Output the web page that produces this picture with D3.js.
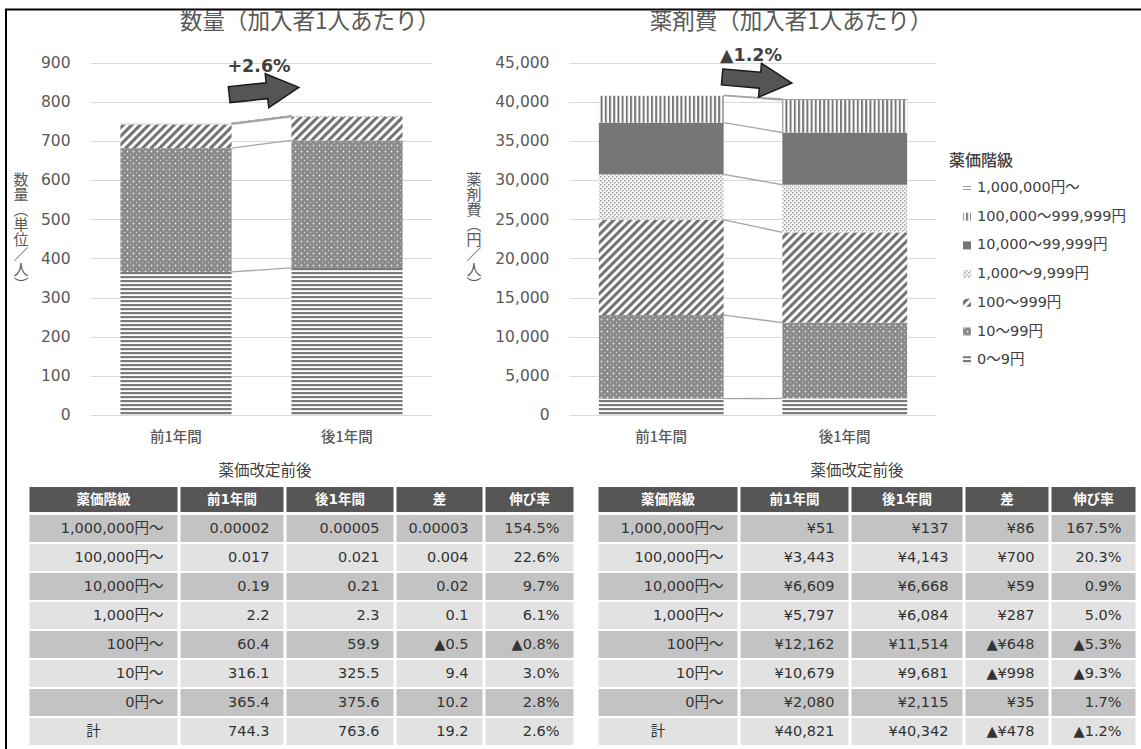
<!DOCTYPE html>
<html><head><meta charset="utf-8">
<script src="https://cdn.jsdelivr.net/npm/d3@7"></script>
<style>body{margin:0;background:#fff}svg{display:block}</style>
</head><body>
<svg id="c" width="1141" height="749"></svg>
<script>
// ---------------- DATA ----------------
const categories = ["前1年間", "後1年間"];
// stack order, bottom to top
const stackKeys = ["0～9円", "10～99円", "100～999円", "1,000～9,999円", "10,000～99,999円", "100,000～999,999円", "1,000,000円～"];
const qtyBefore = [365.4, 316.1, 60.4, 2.2, 0.19, 0.017, 0.00002];
const qtyAfter = [375.6, 325.5, 59.9, 2.3, 0.21, 0.021, 0.00005];
const costBefore = [2080, 10679, 12162, 5797, 6609, 3443, 51];
const costAfter = [2115, 9681, 11514, 6084, 6668, 4143, 137];
const qtyTicks = [0, 100, 200, 300, 400, 500, 600, 700, 800, 900];
const costTicks = [0, 5000, 10000, 15000, 20000, 25000, 30000, 35000, 40000, 45000];
const qtyTitle = "数量（加入者1人あたり）";
const costTitle = "薬剤費（加入者1人あたり）";
const qtyAxisTitle = "数量（単位／人）";
const costAxisTitle = "薬剤費（円／人）";
const qtyChange = "+2.6%";
const costChange = "▲1.2%";
const legendTitle = "薬価階級";
// legend order, top to bottom
const legendLabels = ["1,000,000円～", "100,000～999,999円", "10,000～99,999円", "1,000～9,999円", "100～999円", "10～99円", "0～9円"];

const tableTitle = "薬価改定前後";
const tableHeaders = ["薬価階級", "前1年間", "後1年間", "差", "伸び率"];
const tableRowLabels = ["1,000,000円～", "100,000円～", "10,000円～", "1,000円～", "100円～", "10円～", "0円～", "計"];
const qtyTableBefore = ["0.00002", "0.017", "0.19", "2.2", "60.4", "316.1", "365.4", "744.3"];
const qtyTableAfter = ["0.00005", "0.021", "0.21", "2.3", "59.9", "325.5", "375.6", "763.6"];
const qtyTableDiff = ["0.00003", "0.004", "0.02", "0.1", "▲0.5", "9.4", "10.2", "19.2"];
const qtyTableRate = ["154.5%", "22.6%", "9.7%", "6.1%", "▲0.8%", "3.0%", "2.8%", "2.6%"];
const costTableBefore = ["¥51", "¥3,443", "¥6,609", "¥5,797", "¥12,162", "¥10,679", "¥2,080", "¥40,821"];
const costTableAfter = ["¥137", "¥4,143", "¥6,668", "¥6,084", "¥11,514", "¥9,681", "¥2,115", "¥40,342"];
const costTableDiff = ["¥86", "¥700", "¥59", "¥287", "▲¥648", "▲¥998", "¥35", "▲¥478"];
const costTableRate = ["167.5%", "20.3%", "0.9%", "5.0%", "▲5.3%", "▲9.3%", "1.7%", "▲1.2%"];

// ---------------- SETUP ----------------
const FONT = "'DejaVu Sans','Noto Sans CJK JP',sans-serif";
const CJK = "'Noto Sans CJK JP',sans-serif";
const svg = d3.select("#c");

// frame
svg.append("path").attr("d", "M6,749 L6,9.5 L1141,9.5").attr("fill", "none").attr("stroke", "#000").attr("stroke-width", 2);

// patterns (index = stack index, bottom to top)
const defs = svg.append("defs");
function pat(id, w, h, draw, transform) {
  const p = defs.append("pattern").attr("id", id).attr("patternUnits", "userSpaceOnUse")
    .attr("width", w).attr("height", h);
  if (transform) p.attr("patternTransform", transform);
  draw(p);
}
pat("p0", 6, 4, p => { p.append("rect").attr("width", 6).attr("height", 4).attr("fill", "#fff");
  p.append("rect").attr("width", 6).attr("height", 2.2).attr("fill", "#7a7a7a"); });
pat("p1", 6, 6, p => { p.append("rect").attr("width", 6).attr("height", 6).attr("fill", "#8a8a8a");
  p.append("circle").attr("cx", 1.5).attr("cy", 1.5).attr("r", 0.9).attr("fill", "#e8e8e8");
  p.append("circle").attr("cx", 4.5).attr("cy", 4.5).attr("r", 0.7).attr("fill", "#cfcfcf"); });
pat("p2", 6, 6, p => { p.append("rect").attr("width", 6).attr("height", 6).attr("fill", "#fff");
  p.append("rect").attr("width", 3.1).attr("height", 6).attr("fill", "#737373"); }, "rotate(45)");
pat("p3", 4, 4, p => { p.append("rect").attr("width", 4).attr("height", 4).attr("fill", "#f4f4f4");
  p.append("rect").attr("width", 1.5).attr("height", 1.5).attr("fill", "#a3a3a3");
  p.append("rect").attr("x", 2).attr("y", 2).attr("width", 1.5).attr("height", 1.5).attr("fill", "#a3a3a3"); });
pat("p4", 4, 4, p => { p.append("rect").attr("width", 4).attr("height", 4).attr("fill", "#767676"); });
pat("p5", 4.2, 4, p => { p.append("rect").attr("width", 4.2).attr("height", 4).attr("fill", "#fff");
  p.append("rect").attr("width", 2).attr("height", 4).attr("fill", "#767676"); });
pat("p6", 4, 3, p => { p.append("rect").attr("width", 4).attr("height", 3).attr("fill", "#fff");
  p.append("rect").attr("width", 4).attr("height", 1).attr("fill", "#9a9a9a"); });

// ---------------- CHART ----------------
function drawChart(opt) {
  const y = d3.scaleLinear().domain([0, opt.max]).range([415, 62.5]);
  const x = d3.scaleBand().domain(categories).range(opt.xr)
    .paddingInner(opt.pad).paddingOuter(opt.pad / 2);
  const g = svg.append("g");
  // grid
  g.selectAll("line.grid").data(opt.ticks).enter().append("line")
    .attr("x1", opt.xr[0]).attr("x2", opt.xr[1])
    .attr("y1", d => Math.round(y(d)) + 0.5).attr("y2", d => Math.round(y(d)) + 0.5)
    .attr("stroke", "#d9d9d9").attr("stroke-width", 1);
  // y axis labels
  const ax = g.append("g").attr("transform", `translate(${opt.xr[0]},0)`)
    .call(d3.axisLeft(y).tickValues(opt.ticks).tickSize(0).tickPadding(opt.tickPad)
      .tickFormat(d3.format(opt.fmt)));
  ax.select(".domain").remove();
  ax.selectAll("text").attr("font-family", FONT).attr("font-size", 15.5).attr("fill", "#595959");
  // x labels
  g.selectAll("text.cat").data(categories).enter().append("text")
    .attr("x", d => x(d) + x.bandwidth() / 2).attr("y", 438)
    .attr("text-anchor", "middle").attr("dominant-baseline", "middle")
    .attr("font-family", CJK).attr("font-size", 14.5).attr("font-weight", 500).attr("fill", "#595959")
    .text(d => d);
  // stack
  const rows = categories.map((c, i) => {
    const o = { cat: c };
    stackKeys.forEach((k, j) => o[k] = opt.series[i][j]);
    return o;
  });
  const stacked = d3.stack().keys(stackKeys)(rows);
  // connector lines
  stacked.forEach(s => {
    g.append("line")
      .attr("x1", x(categories[0]) + x.bandwidth()).attr("y1", y(s[0][1]))
      .attr("x2", x(categories[1])).attr("y2", y(s[1][1]))
      .attr("stroke", "#a6a6a6").attr("stroke-width", 1.3);
  });
  stacked.forEach((s, j) => {
    g.selectAll(null).data(s).enter().append("rect")
      .attr("x", d => x(d.data.cat)).attr("width", x.bandwidth())
      .attr("y", d => y(d[1])).attr("height", d => Math.max(0, y(d[0]) - y(d[1])))
      .attr("fill", `url(#p${j})`);
  });
  // title
  g.append("text").attr("x", opt.titleX).attr("y", 23).attr("text-anchor", "middle")
    .attr("dominant-baseline", "middle").attr("font-family", CJK).attr("font-size", 22.5)
    .attr("fill", "#595959").text(opt.title);
  // axis title (vertical writing)
  g.append("text").attr("x", opt.axisTitleX).attr("y", 172)
    .attr("style", "writing-mode: vertical-rl;")
    .attr("font-family", CJK).attr("font-size", 15).attr("fill", "#595959")
    .text(opt.axisTitle);
  // change arrow
  const a = g.append("g").attr("transform", `translate(${opt.arrow[0]},${opt.arrow[1]}) rotate(${opt.arrow[2]})`);
  a.append("path").attr("d", "M-35,-8 L3,-8 L3,-17 L35,0 L3,17 L3,8 L-35,8 Z")
    .attr("fill", "#555").attr("stroke", "#1a1a1a").attr("stroke-width", 1.5).attr("stroke-linejoin", "miter");
  g.append("text").attr("x", opt.changeX).attr("y", opt.changeY).attr("text-anchor", "middle")
    .attr("dominant-baseline", "middle").attr("font-family", FONT).attr("font-weight", "bold")
    .attr("font-size", 17.5).attr("fill", "#404040").text(opt.change);
}

drawChart({ max: 900, ticks: qtyTicks, fmt: "d", xr: [90.5, 432.5], pad: 0.35, tickPad: 20,
  series: [qtyBefore, qtyAfter], title: qtyTitle, titleX: 310, axisTitle: qtyAxisTitle, axisTitleX: 21,
  arrow: [264, 91, -6], change: qtyChange, changeX: 259, changeY: 67 });
drawChart({ max: 45000, ticks: costTicks, fmt: ",d", xr: [569.5, 936.5], pad: 0.32, tickPad: 20,
  series: [costBefore, costAfter], title: costTitle, titleX: 791, axisTitle: costAxisTitle, axisTitleX: 474,
  arrow: [757, 80, 5], change: costChange, changeX: 751, changeY: 56 });

// ---------------- LEGEND ----------------
const lg = svg.append("g");
lg.append("text").attr("x", 949).attr("y", 162).attr("dominant-baseline", "middle")
  .attr("font-family", CJK).attr("font-size", 16).attr("font-weight", 500).attr("fill", "#404040").text(legendTitle);
legendLabels.forEach((l, i) => {
  const yy = 188 + i * 28.7;
  lg.append("rect").attr("x", 963).attr("y", yy - 4).attr("width", 8).attr("height", 8)
    .attr("fill", `url(#p${6 - i})`);
  lg.append("text").attr("x", 977).attr("y", yy).attr("dominant-baseline", "middle")
    .attr("font-family", FONT).attr("font-size", 14.5).attr("fill", "#404040").text(l);
});

// ---------------- TABLES ----------------
function drawTable(edges, titleX, cols) {
  const g = svg.append("g");
  g.append("text").attr("x", titleX).attr("y", 472).attr("text-anchor", "middle").attr("dominant-baseline", "middle")
    .attr("font-family", CJK).attr("font-size", 15.5).attr("fill", "#404040").text(tableTitle);
  const colX = d3.range(5).map(i => [edges[i] + 1.5, edges[i + 1] - 1.5]);
  tableHeaders.forEach((h, i) => {
    g.append("rect").attr("x", colX[i][0]).attr("y", 487).attr("width", colX[i][1] - colX[i][0]).attr("height", 25).attr("fill", "#565656");
    g.append("text").attr("x", (colX[i][0] + colX[i][1]) / 2).attr("y", 500).attr("text-anchor", "middle")
      .attr("dominant-baseline", "middle").attr("font-family", FONT).attr("font-size", 13.5).attr("font-weight", "bold")
      .attr("fill", "#fff").text(h);
  });
  tableRowLabels.forEach((lab, r) => {
    const top = 515 + r * 29;
    const fill = r % 2 === 0 ? "#c3c3c3" : "#e2e2e2";
    const vals = [lab, cols[0][r], cols[1][r], cols[2][r], cols[3][r]];
    vals.forEach((v, i) => {
      g.append("rect").attr("x", colX[i][0]).attr("y", top).attr("width", colX[i][1] - colX[i][0]).attr("height", 27).attr("fill", fill);
      const isTotal = (i === 0 && r === tableRowLabels.length - 1);
      g.append("text").attr("x", isTotal ? (colX[i][0] + colX[i][1]) / 2 - 10 : colX[i][1] - 14)
        .attr("y", top + 14).attr("text-anchor", isTotal ? "middle" : "end").attr("dominant-baseline", "middle")
        .attr("font-family", FONT).attr("font-size", 14.5).attr("fill", "#333").text(v);
    });
  });
}
drawTable([28, 179, 285, 395, 484, 575], 265, [qtyTableBefore, qtyTableAfter, qtyTableDiff, qtyTableRate]);
drawTable([597, 739, 850, 964, 1050, 1137], 857, [costTableBefore, costTableAfter, costTableDiff, costTableRate]);
</script>
</body></html>
